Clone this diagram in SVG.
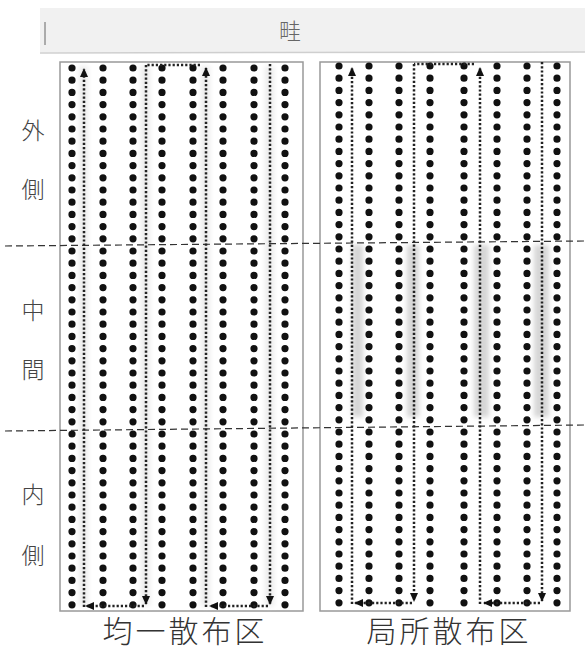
<svg xmlns="http://www.w3.org/2000/svg" width="585" height="656" viewBox="0 0 585 656">
<style>
.dots{stroke:#111;stroke-width:7.2;stroke-linecap:round;stroke-dasharray:0 12.2;fill:none}
.path{stroke:#222;stroke-width:2.5;stroke-dasharray:2.2 2;fill:none}
.panel{fill:#fff;stroke:#999;stroke-width:1.5}
.div{stroke:#333;stroke-width:1.2;stroke-dasharray:7 4;fill:none}
.side{font-family:"Noto Sans CJK JP","Noto Sans CJK SC",sans-serif;font-size:23px;font-weight:300;fill:#444;text-anchor:middle}
.bottom{font-family:"Noto Sans CJK JP","Noto Sans CJK SC",sans-serif;font-size:30px;font-weight:300;fill:#333;text-anchor:middle;letter-spacing:3px}
.band{fill:#d6d6d6;filter:url(#blur)}
.fband{fill:#ececec;filter:url(#blur)}
</style>
<defs>
<filter id="blur" x="-50%" y="-10%" width="200%" height="120%"><feGaussianBlur stdDeviation="2.5"/></filter>
<marker id="ah" markerUnits="userSpaceOnUse" markerWidth="10" markerHeight="10" refX="8" refY="5" orient="auto"><path d="M0,1 L9,5 L0,9 z" fill="#111"/></marker>
</defs>
<rect width="585" height="656" fill="#fff"/>
<g id="header">
<rect x="40" y="8" width="545" height="44" fill="#f1f1f1"/>
<line x1="40" y1="53" x2="585" y2="52" stroke="#cfcfcf" stroke-width="1.5"/>
<line x1="45" y1="22" x2="45" y2="45" stroke="#666" stroke-width="1"/>
<text x="290" y="39" font-family="'Noto Sans CJK JP','Noto Sans CJK SC',sans-serif" font-size="22" font-weight="300" fill="#666" text-anchor="middle">畦</text>
</g>
<g id="labels">
<text class="side" x="33" y="139">外</text>
<text class="side" x="33" y="198">側</text>
<text class="side" x="33" y="319">中</text>
<text class="side" x="33" y="378">間</text>
<text class="side" x="33" y="503">内</text>
<text class="side" x="33" y="564">側</text>
<text class="bottom" x="185" y="642">均一散布区</text>
<text class="bottom" x="449" y="642">局所散布区</text>
</g>
<g id="panel-uniform">
<rect class="panel" x="60" y="62" width="243" height="549"/>
<rect class="fband" x="79" y="66" width="9" height="540"/>
<rect class="fband" x="141" y="66" width="9" height="540"/>
<rect class="fband" x="201" y="66" width="9" height="540"/>
<rect class="fband" x="265" y="66" width="9" height="540"/>
<path class="dots" d="M72,68V606M103,68V606M133,68V606M162,68V606M193,68V606M223,68V606M254,68V606M285,68V606"/>
</g>
<g id="panel-local">
<rect class="panel" x="320" y="62" width="250" height="549"/>
<rect class="band" x="352" y="245" width="11" height="172"/>
<rect class="band" x="407" y="245" width="12" height="172"/>
<rect class="band" x="474" y="245" width="15" height="172"/>
<rect class="band" x="534" y="245" width="15" height="172"/>
<path class="dots" d="M339,66V604M369,66V604M399,66V604M430,66V604M464,66V604M497,66V604M527,66V604M557,66V604"/>
</g>
<g id="dividers">
<line class="div" x1="5" y1="246" x2="585" y2="241"/>
<line class="div" x1="5" y1="431" x2="585" y2="425"/>
</g>
<g id="connectors">
<line class="path" x1="270" y1="64" x2="270" y2="604" marker-end="url(#ah)"/>
<line class="path" x1="268" y1="606" x2="210" y2="606" marker-end="url(#ah)"/>
<line class="path" x1="206" y1="607" x2="206" y2="68" marker-end="url(#ah)"/>
<line class="path" x1="200" y1="65" x2="146" y2="65"/>
<line class="path" x1="146" y1="65" x2="146" y2="604" marker-end="url(#ah)"/>
<line class="path" x1="144" y1="606" x2="86" y2="606" marker-end="url(#ah)"/>
<line class="path" x1="84" y1="607" x2="84" y2="69" marker-end="url(#ah)"/>
<line class="path" x1="542" y1="62" x2="542" y2="601" marker-end="url(#ah)"/>
<line class="path" x1="540" y1="603" x2="484" y2="603" marker-end="url(#ah)"/>
<line class="path" x1="480" y1="604" x2="480" y2="68" marker-end="url(#ah)"/>
<line class="path" x1="474" y1="64" x2="414" y2="64"/>
<line class="path" x1="414" y1="64" x2="414" y2="601" marker-end="url(#ah)"/>
<line class="path" x1="412" y1="603" x2="355" y2="603" marker-end="url(#ah)"/>
<line class="path" x1="352" y1="604" x2="352" y2="68" marker-end="url(#ah)"/>
</g>
</svg>
